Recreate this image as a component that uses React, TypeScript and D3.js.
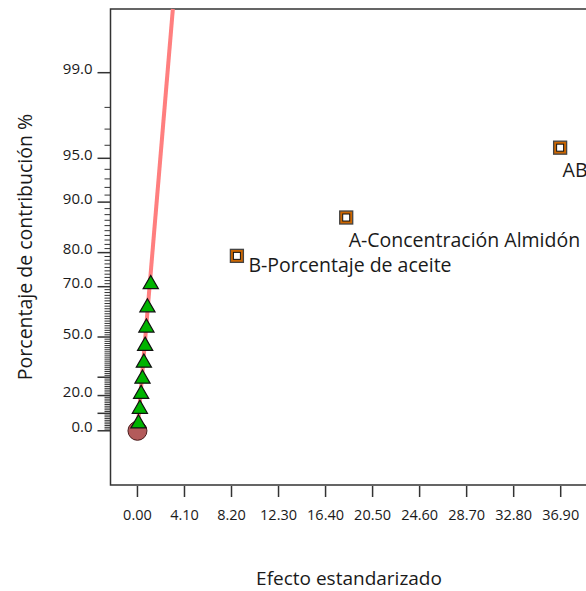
import React from 'react';
import * as d3 from 'd3';

// half-normal plot data
const triangleEffects = [0.09, 0.21, 0.32, 0.44, 0.56, 0.67, 0.78, 0.87, 1.16];
const trianglePcts = [4.17, 12.5, 20.83, 29.17, 37.5, 45.83, 54.17, 62.5, 70.83];
const termNames = ['B-Porcentaje de aceite', 'A-Concentración Almidón', 'AB'];
const termEffects = [8.67, 18.2, 36.85];
const termPcts = [79.17, 87.5, 95.83];
const errorEffects = [0];
const errorPcts = [0];
const xTicks = [0, 4.1, 8.2, 12.3, 16.4, 20.5, 24.6, 28.7, 32.8, 36.9];
const yLabelTicks = [0, 20, 50, 70, 80, 90, 95, 99];
const yLongTicks = [10, 30];
const lineSlope = 0.983; // z per unit effect

// inverse normal cdf (Acklam)
function probit(p: number): number {
  const a = [-39.69683028665376, 220.9460984245205, -275.9285104469687, 138.357751867269, -30.66479806614716, 2.506628277459239];
  const b = [-54.47609879822406, 161.5858368580409, -155.6989798598866, 66.80131188771972, -13.28068155288572];
  const c = [-0.007784894002430293, -0.3223964580411365, -2.400758277161838, -2.549732539343734, 4.374664141464968, 2.938163982698783];
  const d = [0.007784695709041462, 0.3224671290700398, 2.445134137142996, 3.754408661907416];
  const pl = 0.02425;
  if (p < pl) {
    const q = Math.sqrt(-2 * Math.log(p));
    return (((((c[0] * q + c[1]) * q + c[2]) * q + c[3]) * q + c[4]) * q + c[5]) / ((((d[0] * q + d[1]) * q + d[2]) * q + d[3]) * q + 1);
  }
  if (p > 1 - pl) {
    const q = Math.sqrt(-2 * Math.log(1 - p));
    return -(((((c[0] * q + c[1]) * q + c[2]) * q + c[3]) * q + c[4]) * q + c[5]) / ((((d[0] * q + d[1]) * q + d[2]) * q + d[3]) * q + 1);
  }
  const q = p - 0.5;
  const r = q * q;
  return (((((a[0] * r + a[1]) * r + a[2]) * r + a[3]) * r + a[4]) * r + a[5]) * q / (((((b[0] * r + b[1]) * r + b[2]) * r + b[3]) * r + b[4]) * r + 1);
}
const halfZ = (pct: number) => probit(0.5 + pct / 200);

const width = 586;
const height = 591;
const left = 110.5;
const top = 9;
const bottom = 485;

const x = d3.scaleLinear().domain([-2.35, 41]).range([left, left + 43.35 * 11.47]);
const y = d3.scaleLinear().domain([-0.39, 3.034]).range([bottom, top]);
const yp = (pct: number) => y(halfZ(pct));

const font = '"Open Sans", "Noto Sans", sans-serif';
const triangle = d3.symbol(d3.symbolTriangle, 100)();

const App = () => {
  const minorTicks = d3.range(1, 99).filter(p => !yLabelTicks.includes(p) && !yLongTicks.includes(p));
  const zTop = y.domain()[1];
  const lineEnd = zTop / lineSlope;

  return (
    <svg width={width} height={height} style={{ position: 'absolute', left: 0, top: 0 }} fontFamily={font}>
      {/* frame */}
      <path d={`M${width + 10},${top}H${left}V${bottom}H${width + 10}`} fill="none" stroke="#333" strokeWidth={1.5} />

      {/* y ticks */}
      {minorTicks.map(p => (
        <line key={'m' + p} x1={left - 6} x2={left} y1={yp(p)} y2={yp(p)} stroke="#333" strokeWidth={1} />
      ))}
      {yLongTicks.concat(yLabelTicks).map(p => (
        <line key={'M' + p} x1={left - 13} x2={left} y1={yp(p)} y2={yp(p)} stroke="#333" strokeWidth={1.5} />
      ))}
      {yLabelTicks.map(p => (
        <text key={'l' + p} x={left - 18} y={yp(p)} dy="0.1em" textAnchor="end" fontSize={15} fill="#1a1a1a">
          {p.toFixed(1)}
        </text>
      ))}

      {/* x ticks */}
      {xTicks.map(t => (
        <g key={t} transform={`translate(${x(t)},0)`}>
          <line y1={bottom + 1} y2={bottom + 12} stroke="#333" strokeWidth={1.5} />
          <text y={bottom + 35} textAnchor="middle" fontSize={14.5} fill="#1a1a1a">{t.toFixed(2)}</text>
        </g>
      ))}

      {/* fitted line */}
      <line x1={x(0)} y1={y(0)} x2={x(lineEnd)} y2={y(zTop)} stroke="#ff7f7f" strokeWidth={4} />

      {/* error point */}
      {errorEffects.map((e, i) => (
        <circle key={'e' + i} cx={x(e)} cy={y(halfZ(errorPcts[i]))} r={9.5} fill="#b35a5a" stroke="#4a1c1c" strokeWidth={1} />
      ))}

      {/* small effects */}
      {triangleEffects.map((e, i) => (
        <path key={'t' + i} d={triangle!} transform={`translate(${x(e)},${yp(trianglePcts[i])})`} fill="#00b400" stroke="#111" strokeWidth={1.2} />
      ))}

      {/* model terms */}
      {termEffects.map((e, i) => (
        <g key={'s' + i} transform={`translate(${x(e)},${yp(termPcts[i])})`}>
          <rect x={-6.5} y={-6.5} width={13} height={13} fill="#cc6600" stroke="#444" strokeWidth={1.3} />
          <rect x={-3.5} y={-3.5} width={7} height={7} fill="#fff" stroke="#111" strokeWidth={1} />
        </g>
      ))}
      {termNames.map((n, i) => {
        const first = i === 0;
        return (
          <text key={n} x={x(termEffects[i]) + (first ? 11.5 : 2.5)} y={yp(termPcts[i]) + (first ? 16 : 29)} fontSize={19.5} fill="#1a1a1a">
            {n}
          </text>
        );
      })}

      {/* axis titles */}
      <text x={349} y={585} textAnchor="middle" fontSize={19} fill="#1a1a1a">Efecto estandarizado</text>
      <text transform={`translate(32,${(top + bottom) / 2}) rotate(-90)`} textAnchor="middle" fontSize={19.5} fill="#1a1a1a">
        Porcentaje de contribución %
      </text>
    </svg>
  );
};

export default App;
